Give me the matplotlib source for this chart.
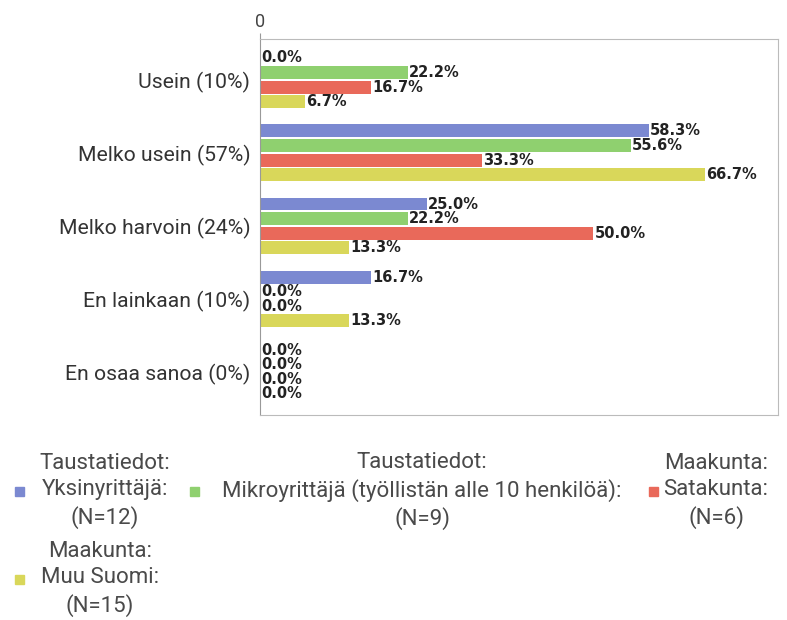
import matplotlib.pyplot as plt
import numpy as np
from matplotlib.patches import Rectangle

categories = ['Usein (10%)', 'Melko usein (57%)', 'Melko harvoin (24%)',
              'En lainkaan (10%)', 'En osaa sanoa (0%)']
yksinyrittaja = [0.0, 58.3, 25.0, 16.7, 0.0]
mikroyrittaja = [22.2, 55.6, 22.2, 0.0, 0.0]
satakunta = [16.7, 33.3, 50.0, 0.0, 0.0]
muu_suomi = [6.7, 66.7, 13.3, 13.3, 0.0]

series = [yksinyrittaja, mikroyrittaja, satakunta, muu_suomi]
colors = ['#7b89d1', '#8fd06f', '#e9695a', '#d9d75a']
legend_labels = ['Taustatiedot:\nYksinyrittäjä:\n(N=12)',
                 'Taustatiedot:\nMikroyrittäjä (työllistän alle 10 henkilöä):\n(N=9)',
                 'Maakunta:\nSatakunta:\n(N=6)',
                 'Maakunta:\nMuu Suomi:\n(N=15)']

plt.rcParams['font.family'] = ['Roboto', 'DejaVu Sans']

fig = plt.figure(figsize=(7.87, 6.2), dpi=100)
ax = fig.add_axes([260 / 787, 1 - 415 / 620, 518 / 787, 376 / 620])

y = np.arange(len(categories))
h = 0.178
for i, (vals, c) in enumerate(zip(series, colors)):
    pos = y + (i - 1.5) * 0.2
    ax.barh(pos, vals, height=h, color=c, edgecolor='none')
    for p, v in zip(pos, vals):
        ax.text(v + 0.2, p, f'{v:.1f}%', va='center', ha='left',
                fontsize=10.5, fontweight='bold', color='#222222',
                family='DejaVu Sans')

ax.set_xlim(0, 77.7)
ax.set_ylim(4.59, -0.56)
ax.set_yticks(y)
ax.set_yticklabels(categories, fontsize=15.2, color='#333333')
ax.tick_params(axis='y', length=0, pad=7)
ax.xaxis.tick_top()
ax.set_xticks([0])
ax.set_xticklabels(['0'], fontsize=13, color='#444444')
ax.tick_params(axis='x', length=4, color='#999999', pad=2)
for s in ax.spines.values():
    s.set_color('#bbbbbb')
ax.spines['left'].set_color('#999999')

# legend drawn below the plot: (square x, text centre x, middle line y)
entries = [(15, 105, 491), (190, 422, 491), (649, 716, 491), (15, 100, 579)]
for (sx, tx, ty), lab, c in zip(entries, legend_labels, colors):
    fig.text(tx / 787, 1 - ty / 620, lab, ha='center', va='center',
             fontsize=16, color='#4a4a4a', linespacing=1.32)
    fig.patches.append(Rectangle((sx / 787, 1 - (ty + 5) / 620), 9 / 787, 9 / 620,
                                 transform=fig.transFigure, color=c))

fig.savefig('out.png', dpi=100)
